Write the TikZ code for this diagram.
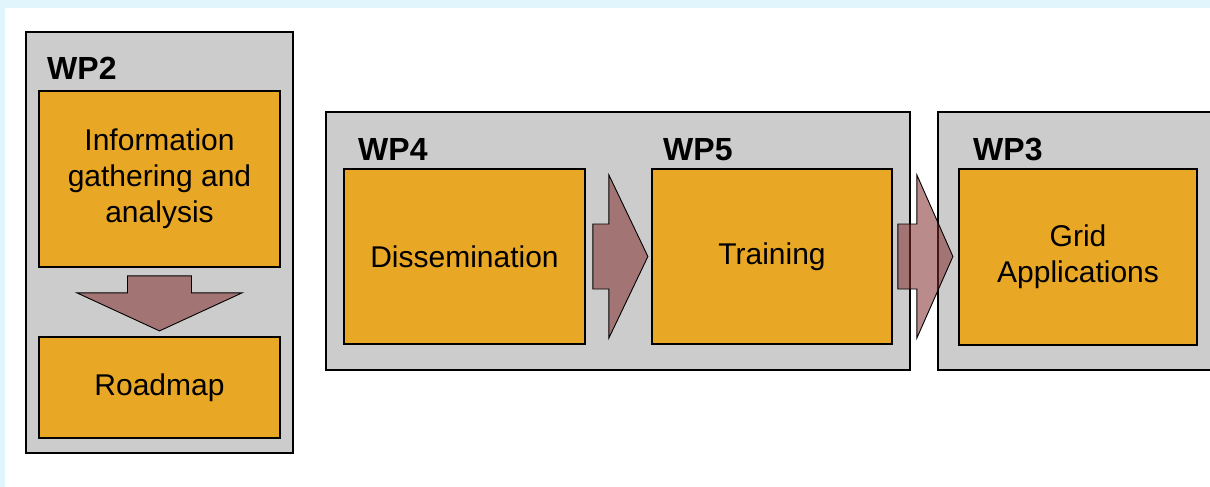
\documentclass[tikz,border=0pt]{standalone}
\usepackage{fontspec}
\setmainfont{Liberation Sans}
\usetikzlibrary{calc}

\definecolor{wpgray}{HTML}{CCCCCC}
\definecolor{taskorange}{HTML}{E9A726}
\definecolor{flowred}{RGB}{131,45,45}
\definecolor{pagecyan}{HTML}{E0F6FC}

\begin{document}
\begin{tikzpicture}[x=1pt, y=-1pt,
    wpbox/.style={draw, fill=wpgray, line width=1.8pt, inner sep=0pt},
    task/.style={draw, fill=taskorange, line width=1.8pt, inner sep=0pt,
      align=center, font=\fontsize{30}{36}\selectfont},
    wplabel/.style={anchor=base west, inner sep=0pt,
      font=\fontsize{32}{38}\selectfont\bfseries},
    flow/.style={draw, line width=0.9pt, fill=flowred, fill opacity=0.55}]
  \useasboundingbox (0,0) rectangle (1210,487);%
  \fill[pagecyan] (0,0) rectangle (1210,487);%
  \fill[white] (5,8) rectangle (1210,487);%
  \clip (0,0) rectangle (1210,487);%
  \node [wpbox, minimum width=267pt, minimum height=421pt] (wp2) at (159.5, 242.5) {};%
  \node [wpbox, minimum width=584pt, minimum height=258pt] (wp45) at (618, 241) {};%
  \node [wpbox, minimum width=284pt, minimum height=258pt] (wp3) at (1080, 241) {};%
  \node [wplabel] (wp2label) at (47, 80) {WP2};%
  \node [wplabel] (wp4label) at (358, 160) {WP4};%
  \node [wplabel] (wp5label) at (663, 160) {WP5};%
  \node [wplabel] (wp3label) at (973, 160) {WP3};%
  \node [task, minimum width=241pt, minimum height=176pt] (info) at (159.5, 179) {Information\\%
    gathering and\\analysis};%
  \node [task, minimum width=241pt, minimum height=101pt] (roadmap) at (159.5, 387.5) {Roadmap};%
  \node [task, minimum width=241pt, minimum height=175pt] (dissem) at (464.5, 256.5) {Dissemination};%
  \node [task, minimum width=240pt, minimum height=175pt] (training) at (772, 256.5) {Training};%
  \node [task, minimum width=238pt, minimum height=176pt] (grid) at (1078, 257) {Grid\\Applications};%
  % block arrows between the work packages
  \draw [flow] ($(info.south)+(-32, 8)$) -- ++(64, 0) -- ++(0, 17) -- ++(50.5, 0)%
    -- ++(-82.5, 38) -- ++(-82.5, -38) -- ++(50.5, 0) -- cycle;%
  \draw [flow] ($(dissem.east)+(7, -32.5)$) -- ++(16, 0) -- ++(0, -49) -- ++(39, 81.5)%
    -- ++(-39, 81.5) -- ++(0, -49) -- ++(-16, 0) -- cycle;%
  \draw [flow] ($(training.east)+(5, -32.5)$) -- ++(19, 0) -- ++(0, -49) -- ++(36, 81.5)%
    -- ++(-36, 81.5) -- ++(0, -49) -- ++(-19, 0) -- cycle;%
\end{tikzpicture}
\end{document}
